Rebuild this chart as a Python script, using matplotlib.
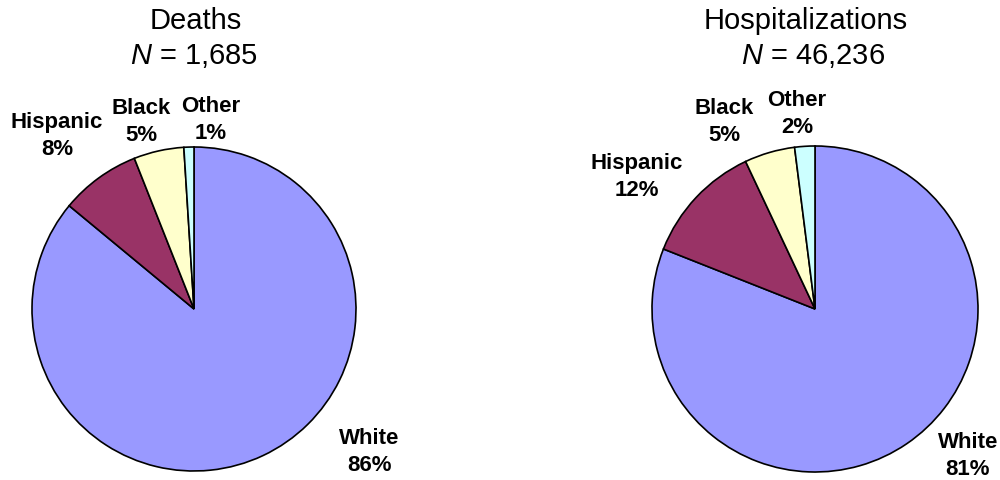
import matplotlib
matplotlib.use("Agg")
import matplotlib.pyplot as plt

groups = ["White", "Hispanic", "Black", "Other"]
colors = ["#9999FF", "#993366", "#FFFFCC", "#CCFFFF"]

deaths_pct = [86, 8, 5, 1]
hosp_pct = [81, 12, 5, 2]

deaths_n = "1,685"
hosp_n = "46,236"

plt.rcParams["font.family"] = ["Liberation Sans", "DejaVu Sans"]
plt.rcParams["mathtext.fontset"] = "custom"
plt.rcParams["mathtext.rm"] = "Liberation Sans"
plt.rcParams["mathtext.it"] = "Liberation Sans:italic"

W, H = 1000, 481
fig = plt.figure(figsize=(10, 4.81), dpi=100)
ax = fig.add_axes([0, 0, 1, 1])


def draw_pie(values, cx, cy, r, title, n, title_x, n_x, label_offsets):
    ax.pie(values, colors=colors, startangle=90, counterclock=False,
           center=(cx, H - cy), radius=r,
           wedgeprops=dict(edgecolor="black", linewidth=1.2), frame=True)
    ax.text(title_x, H - 21, title, ha="center", va="center", fontsize=21)
    ax.text(n_x, H - 56, r"$\it{N}$ = " + n, ha="center", va="center", fontsize=21)
    for g, v, (dx, dy) in zip(groups, values, label_offsets):
        ax.text(cx + dx, H - cy + dy, "{}\n{}%".format(g, v), ha="center",
                va="center", fontsize=16, fontweight="bold", linespacing=1.4)


draw_pie(deaths_pct, 194, 310, 162, "Deaths", deaths_n, 196, 194,
         [(175, -142), (-137, 174), (-53, 188), (17, 190)])
draw_pie(hosp_pct, 815, 310, 163, "Hospitalizations", hosp_n, 806, 813,
         [(153, -146), (-178, 133), (-91, 188), (-18, 196)])

ax.set_xlim(0, W)
ax.set_ylim(0, H)
ax.set_aspect("equal")
ax.axis("off")

fig.savefig("out.png", dpi=100)
